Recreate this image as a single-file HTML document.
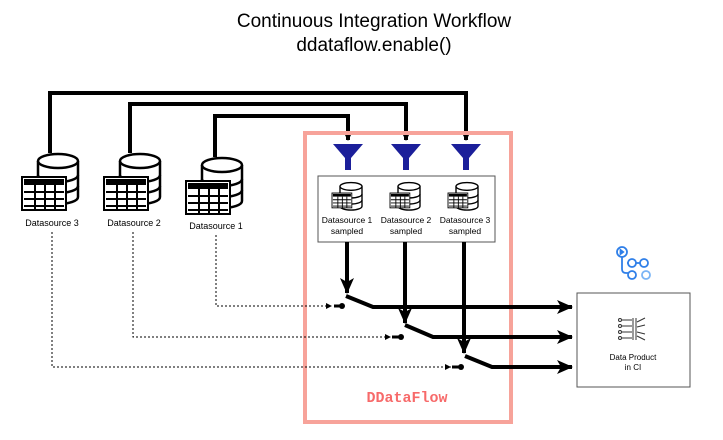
<!DOCTYPE html>
<html><head><style>
body{margin:0;background:#fff;}
svg{display:block;font-family:"Liberation Sans",sans-serif;}
</style></head><body>
<svg width="723" height="440" viewBox="0 0 723 440">
<defs>
<marker id="ah" markerWidth="10" markerHeight="10" refX="9" refY="5" orient="auto" markerUnits="userSpaceOnUse"><path d="M0,0 L10,5 L0,10 L3,5z" fill="#000"/></marker>
<marker id="ah2" markerWidth="16" markerHeight="14" refX="15" refY="7" orient="auto" markerUnits="userSpaceOnUse"><path d="M0,0 L16,7 L0,14 L4,7z" fill="#000"/></marker>
<marker id="sm" markerWidth="6" markerHeight="6" refX="6" refY="3" orient="auto" markerUnits="userSpaceOnUse"><path d="M0,0 L6,3 L0,6z" fill="#000"/></marker>
<g id="db">
<path d="M0,8 v36 a20,7 0 0 0 40,0 v-36" fill="#fff" stroke="#000" stroke-width="2.5"/>
<ellipse cx="20" cy="8" rx="20" ry="7" fill="#fff" stroke="#000" stroke-width="2.5"/>
<path d="M0,22 a20,7 0 0 0 40,0 M0,33 a20,7 0 0 0 40,0" fill="none" stroke="#000" stroke-width="2.5"/>
</g>
<g id="tb">
<rect x="0" y="0" width="44" height="33" fill="#fff" stroke="#000" stroke-width="2"/>
<rect x="2" y="2" width="40" height="6" fill="#000"/>
<path d="M2,15 h40 M2,22 h40 M2,29 h40 M13,8 v25 M23,8 v25 M33,8 v25" stroke="#000" stroke-width="2"/>
</g>
<g id="fn"><path d="M-15,0 h30 l-12,14 v12 h-6 v-12z" fill="#1b1f9a"/></g>
</defs>
<text x="374" y="27" font-size="19" text-anchor="middle">Continuous Integration Workflow</text>
<text x="374" y="51" font-size="19" text-anchor="middle">ddataflow.enable()</text>

<g fill="none" stroke="#000" stroke-width="4">
<path d="M50,153 V93 H466 V140" marker-end="url(#ah)"/>
<path d="M130,153 V104 H406 V140" marker-end="url(#ah)"/>
<path d="M215,157 V116 H348 V140" marker-end="url(#ah)"/>
</g>
<rect x="305" y="133" width="206" height="289" fill="none" stroke="#f7a39a" stroke-width="4"/>
<use href="#fn" x="348" y="144"/><use href="#fn" x="406" y="144"/><use href="#fn" x="466" y="144"/>
<rect x="318" y="176" width="177" height="66" fill="#fff" stroke="#555" stroke-width="1"/>
<g transform="translate(340,182) scale(0.55)"><use href="#db"/></g>
<g transform="translate(332,193) scale(0.45)"><use href="#tb"/></g>
<g transform="translate(398,182) scale(0.55)"><use href="#db"/></g>
<g transform="translate(390,193) scale(0.45)"><use href="#tb"/></g>
<g transform="translate(456,182) scale(0.55)"><use href="#db"/></g>
<g transform="translate(448,193) scale(0.45)"><use href="#tb"/></g>
<g font-size="8.5" text-anchor="middle">
<text x="347" y="223">Datasource 1</text><text x="347" y="234">sampled</text>
<text x="406" y="223">Datasource 2</text><text x="406" y="234">sampled</text>
<text x="465" y="223">Datasource 3</text><text x="465" y="234">sampled</text>
</g>

<g transform="translate(38,153)"><use href="#db"/></g><g transform="translate(22,177)"><use href="#tb"/></g>
<g transform="translate(120,153)"><use href="#db"/></g><g transform="translate(104,177)"><use href="#tb"/></g>
<g transform="translate(202,157)"><use href="#db"/></g><g transform="translate(186,181)"><use href="#tb"/></g>
<g font-size="9" text-anchor="middle">
<text x="52" y="226">Datasource 3</text><text x="134" y="226">Datasource 2</text><text x="216" y="229">Datasource 1</text>
</g>

<g fill="none" stroke="#000" stroke-width="1" stroke-dasharray="2,2">
<path d="M216,235 V306 H332" marker-end="url(#sm)"/>
<path d="M133,232 V337 H391" marker-end="url(#sm)"/>
<path d="M52,232 V367 H451" marker-end="url(#sm)"/>
</g>
<g stroke="#000" stroke-width="3">
<path d="M334,306 h10 M392,337 h10 M452,367 h10"/>
</g>
<circle cx="342" cy="306" r="3" fill="#000"/><circle cx="401" cy="337" r="3" fill="#000"/><circle cx="461" cy="367" r="3" fill="#000"/>

<g fill="none" stroke="#000" stroke-width="4">
<path d="M347,242 V293" marker-end="url(#ah2)"/>
<path d="M405,242 V323" marker-end="url(#ah2)"/>
<path d="M464,242 V353" marker-end="url(#ah2)"/>
<path d="M346,296 L373,307 H572" marker-end="url(#ah2)"/>
<path d="M405,325 L433,337 H572" marker-end="url(#ah2)"/>
<path d="M465,356 L492,367 H572" marker-end="url(#ah2)"/>
</g>
<text x="407" y="402" font-family="Liberation Mono,monospace" font-size="15" font-weight="bold" fill="#f76a6a" text-anchor="middle">DDataFlow</text>

<rect x="577" y="293" width="113" height="94" fill="#fff" stroke="#555" stroke-width="1"/>
<g stroke="#333" stroke-width="1" fill="none">
<path d="M622,320 h10 M622,326 h10 M622,332 h10 M622,338 h10 M633,318 v22 M636,318 v22 M637,322 l8,-4 M637,327 l8,-2 M637,332 l8,2 M637,336 l8,4"/>
<circle cx="620" cy="320" r="1.5"/><circle cx="620" cy="326" r="1.5"/><circle cx="620" cy="332" r="1.5"/><circle cx="620" cy="338" r="1.5"/>
</g>
<text x="633" y="360" font-size="8" text-anchor="middle">Data Product</text>
<text x="633" y="370" font-size="8" text-anchor="middle">in CI</text>

<g fill="none" stroke="#2f7fe8" stroke-width="1.8">
<circle cx="622" cy="252" r="5"/><path d="M620,249 l4,3 l-4,3z" fill="#2f7fe8" stroke-width="0.8"/>
<path d="M622,257 v12 q0,4 4,4 h2 M627,263 h1"/>
<circle cx="632" cy="263" r="4"/><circle cx="644" cy="263" r="4"/><path d="M636,263 h4"/>
<circle cx="632" cy="275" r="4"/><circle cx="646" cy="275" r="4" stroke="#7ab4f5"/>
</g>
</svg>
</body></html>
